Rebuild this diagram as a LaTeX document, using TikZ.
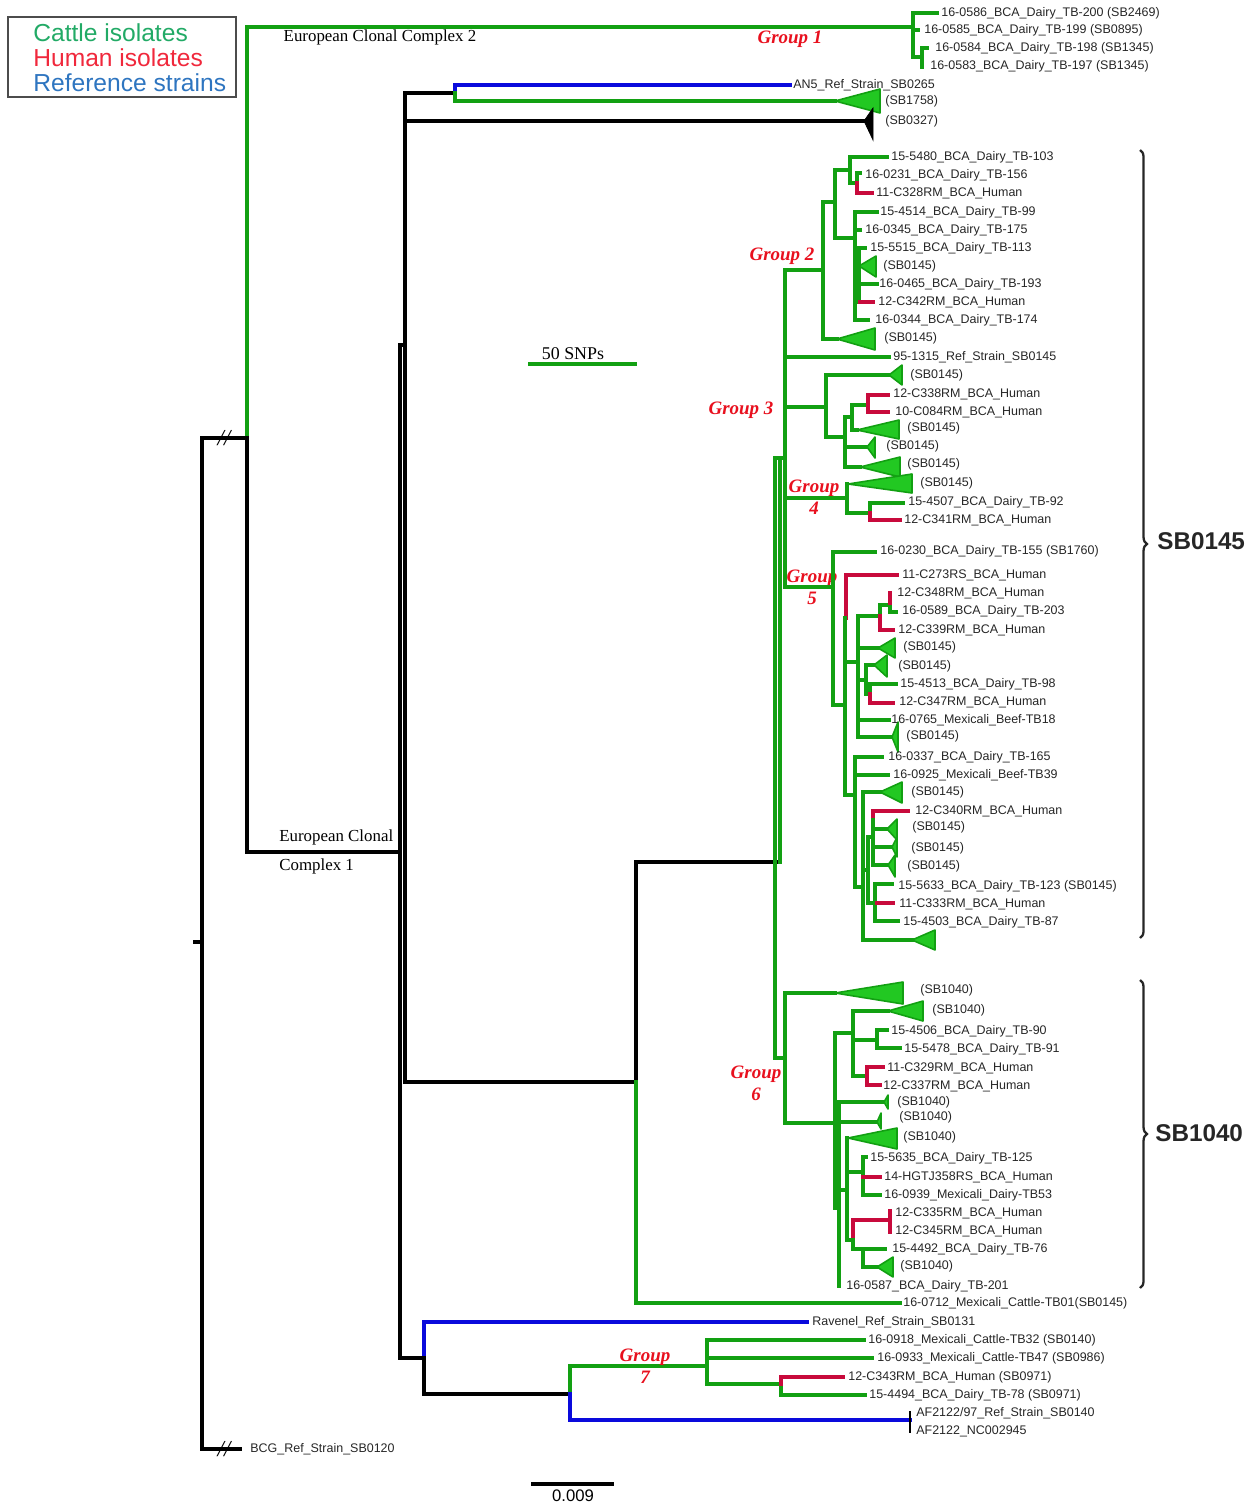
\documentclass[tikz,border=0pt]{standalone}
\usepackage{fontspec}
\setmainfont{Liberation Serif}
\setsansfont{Liberation Sans}
\usetikzlibrary{decorations.pathreplacing}
\definecolor{treegreen}{HTML}{12A012}
\definecolor{cladefill}{HTML}{22C822}
\definecolor{humred}{HTML}{C80A3C}
\definecolor{refblue}{HTML}{0A0ADC}
\definecolor{grpred}{HTML}{E8101E}
\definecolor{keygreen}{HTML}{22AA66}
\definecolor{keyred}{HTML}{F0283C}
\definecolor{keyblue}{HTML}{2E75C0}

\begin{document}
\begin{tikzpicture}[
  x=0.02cm, y=-0.02cm,
  br/.style={line width=1.75pt, line cap=rect, line join=miter},
  grn/.style={br, draw=treegreen},
  hum/.style={br, draw=humred},
  ref/.style={br, draw=refblue},
  blk/.style={br, draw=black},
  clade/.style={draw=treegreen, fill=cladefill, line width=0.9pt, line join=round},
  leaf/.style={anchor=west, inner sep=0pt, text=black!85,
               font=\sffamily\fontsize{7.1}{8.5}\selectfont},
  grp/.style={text=grpred, align=center, inner sep=0pt,
              font=\bfseries\itshape\fontsize{10.8}{12.5}\selectfont},
  ecc/.style={inner sep=0pt, font=\fontsize{9.6}{11}\selectfont},
  key/.style={anchor=west, inner sep=0pt, font=\sffamily\fontsize{14}{16}\selectfont},
  cut/.style={inner sep=0pt, font=\itshape\fontsize{13}{14}\selectfont},
  spl/.style={anchor=west, inner sep=0pt, font=\sffamily\bfseries\fontsize{13.8}{16}\selectfont, text=black!85}
]
\useasboundingbox (0,0) rectangle (1258,1507);

% === Legend ===
\draw[black!70, line width=0.8pt] (8,17) rectangle (236,97);
\node[key, text=keygreen] (kcat) at (33,33) {Cattle isolates};
\node[key, text=keyred]   (khum) at (33,58) {Human isolates};
\node[key, text=keyblue]  (kref) at (33,83) {Reference strains};

% === Root and the two cut branches ===
\draw[blk] (195,942) -- (202,942);
\draw[blk] (240,1449) -- (202,1449) -- (202,438) -- (247,438);
\node[cut] (cutA) at (224,438) {//};
\node[cut] (cutB) at (224,1449) {//};
\node[leaf] (bcg) at (250,1449) {BCG\_Ref\_Strain\_SB0120};

% === European Clonal Complex 2 / Group 1 ===
\draw[grn] (247,438) -- (247,27) -- (913,27);
\node[ecc] (ecc2) at (380,37) {European Clonal Complex 2};
\node[grp] (g1) at (790,39) {Group 1};
\draw[grn] (913,13) -- (913,57);
\draw[grn] (913,13) -- (937,13);
\draw[grn] (913,30) -- (918,30);
\draw[grn] (913,57) -- (922,57);
\draw[grn] (922,48) -- (922,67);
\draw[grn] (922,48) -- (927,48);
\node[leaf] (t200) at (941,13) {16-0586\_BCA\_Dairy\_TB-200 (SB2469)};
\node[leaf] (t199) at (924,30) {16-0585\_BCA\_Dairy\_TB-199 (SB0895)};
\node[leaf] (t198) at (935,48) {16-0584\_BCA\_Dairy\_TB-198 (SB1345)};
\node[leaf] (t197) at (930,66) {16-0583\_BCA\_Dairy\_TB-197 (SB1345)};

% === European Clonal Complex 1 ===
\draw[blk] (247,438) -- (247,852) -- (400,852);
\node[ecc, anchor=west] (ecc1a) at (279,837) {European Clonal};
\node[ecc, anchor=west] (ecc1b) at (279,866) {Complex 1};
\draw[blk] (400,345) -- (400,1358);
\draw[blk] (400,345) -- (405,345);
\draw[blk] (405,93) -- (405,1082);
\draw[blk] (405,93) -- (455,93);
\draw[ref] (455,93) -- (455,85) -- (790,85);
\draw[grn] (455,93) -- (455,101) -- (835,101);
\filldraw[clade] (835,101) -- (880,89) -- (880,113) -- cycle;
\draw[blk] (405,121) -- (868,121);
\filldraw[black] (864,121) -- (873,108) -- (873,140) -- cycle;
\node[leaf] (an5) at (793,85) {AN5\_Ref\_Strain\_SB0265};
\node[leaf] (s1758) at (885,101) {(SB1758)};
\node[leaf] (s0327) at (885,121) {(SB0327)};

\draw[blk] (405,1082) -- (636,1082);
\draw[blk] (636,1082) -- (636,862) -- (777,862);
\draw[grn] (636,1082) -- (636,1303) -- (900,1303);
\node[leaf] (tb01) at (903,1303) {16-0712\_Mexicali\_Cattle-TB01(SB0145)};

% === scale bars ===
\draw[grn] (530,364) -- (635,364);
\node[ecc, font=\fontsize{10.2}{12}\selectfont] (snp) at (573,354) {50 SNPs};
\draw[blk, line width=2.6pt] (533,1484) -- (612,1484);
\node[inner sep=0pt, font=\sffamily\fontsize{9.5}{11}\selectfont] (bar) at (573,1496) {0.009};

% === Groups 2-6 backbone ===
\draw[grn] (775,458) -- (775,1058);
\draw[grn] (780,462) -- (780,862);
\draw[grn] (775,458) -- (785,458);
\draw[grn] (775,1058) -- (785,1058);
\draw[grn] (785,270) -- (785,587);

% === Group 2 ===
\node[grp] (g2) at (782,256) {Group 2};
\draw[grn] (785,270) -- (823,270);
\draw[grn] (823,202) -- (823,339);
\draw[grn] (823,202) -- (835,202);
\draw[grn] (835,170) -- (835,238);
\draw[grn] (835,170) -- (850,170);
\draw[grn] (850,157) -- (850,183);
\draw[grn] (850,157) -- (887,157);
\draw[grn] (850,183) -- (857,183);
\draw[grn] (857,173) -- (857,183);
\draw[grn] (857,173) -- (860,173);
\draw[hum] (857,183) -- (857,193) -- (872,193);
\draw[grn] (835,238) -- (855,238);
\draw[grn] (855,212) -- (855,320);
\draw[grn] (859,248) -- (859,302);
\draw[grn] (855,212) -- (877,212);
\draw[grn] (855,230) -- (860,230);
\draw[grn] (855,248) -- (865,248);
\filldraw[clade] (859,266) -- (876,256) -- (876,277) -- cycle;
\draw[grn] (855,284) -- (877,284);
\draw[hum] (860,302) -- (873,302);
\draw[grn] (855,320) -- (868,320);
\draw[grn] (823,339) -- (837,339);
\filldraw[clade] (837,339) -- (875,328) -- (875,350) -- cycle;
\node[leaf] (t103) at (891,157) {15-5480\_BCA\_Dairy\_TB-103};
\node[leaf] (t156) at (865,175) {16-0231\_BCA\_Dairy\_TB-156};
\node[leaf] (h328) at (876,193) {11-C328RM\_BCA\_Human};
\node[leaf] (t99)  at (880,212) {15-4514\_BCA\_Dairy\_TB-99};
\node[leaf] (t175) at (865,230) {16-0345\_BCA\_Dairy\_TB-175};
\node[leaf] (t113) at (870,248) {15-5515\_BCA\_Dairy\_TB-113};
\node[leaf] (c2a)  at (883,266) {(SB0145)};
\node[leaf] (t193) at (879,284) {16-0465\_BCA\_Dairy\_TB-193};
\node[leaf] (h342) at (878,302) {12-C342RM\_BCA\_Human};
\node[leaf] (t174) at (875,320) {16-0344\_BCA\_Dairy\_TB-174};
\node[leaf] (c2b)  at (884,338) {(SB0145)};

% === 95-1315 ===
\draw[grn] (785,357) -- (889,357);
\node[leaf] (r1315) at (893,357) {95-1315\_Ref\_Strain\_SB0145};

% === Group 3 ===
\node[grp] (g3) at (741,410) {Group 3};
\draw[grn] (785,407) -- (826,407);
\draw[grn] (826,375) -- (826,437);
\draw[grn] (826,375) -- (890,375);
\filldraw[clade] (889,375) -- (902,365) -- (902,385) -- cycle;
\draw[grn] (826,437) -- (845,437);
\draw[grn] (845,417) -- (845,467);
\draw[grn] (845,417) -- (852,417);
\draw[grn] (852,405) -- (852,430);
\draw[grn] (852,405) -- (868,405);
\draw[hum] (868,395) -- (868,412);
\draw[hum] (868,395) -- (888,395);
\draw[hum] (868,412) -- (888,412);
\draw[grn] (852,430) -- (857,430);
\filldraw[clade] (857,430) -- (899,420) -- (899,439) -- cycle;
\draw[grn] (845,447) -- (867,447);
\filldraw[clade] (867,447) -- (875,437) -- (875,458) -- cycle;
\draw[grn] (845,467) -- (860,467);
\filldraw[clade] (860,467) -- (900,457) -- (900,477) -- cycle;
\node[leaf] (c3a)  at (910,375) {(SB0145)};
\node[leaf] (h338) at (893,394) {12-C338RM\_BCA\_Human};
\node[leaf] (h084) at (895,412) {10-C084RM\_BCA\_Human};
\node[leaf] (c3b)  at (907,428) {(SB0145)};
\node[leaf] (c3c)  at (886,446) {(SB0145)};
\node[leaf] (c3d)  at (907,464) {(SB0145)};

% === Group 4 ===
\node[grp] (g4) at (814,497) {Group\\4};
\draw[grn] (785,498) -- (847,498);
\draw[grn] (847,484) -- (847,513);
\filldraw[clade] (848,484) -- (912,474) -- (912,493) -- cycle;
\draw[grn] (847,513) -- (870,513);
\draw[grn] (870,503) -- (870,513);
\draw[grn] (870,503) -- (903,503);
\draw[hum] (870,513) -- (870,520) -- (900,520);
\node[leaf] (c4a)  at (920,483) {(SB0145)};
\node[leaf] (t92)  at (908,502) {15-4507\_BCA\_Dairy\_TB-92};
\node[leaf] (h341) at (904,520) {12-C341RM\_BCA\_Human};

% === Group 5 ===
\node[grp] (g5) at (812,587) {Group\\5};
\draw[grn] (785,587) -- (833,587);
\draw[grn] (833,552) -- (833,705);
\draw[grn] (833,552) -- (875,552);
\draw[grn] (833,705) -- (845,705);
\draw[hum] (846,618) -- (846,575) -- (897,575);
\draw[grn] (845,618) -- (845,795);
\draw[grn] (845,662) -- (858,662);
\draw[grn] (858,616) -- (858,737);
\draw[grn] (858,616) -- (880,616);
\draw[grn] (880,605) -- (880,616);
\draw[hum] (880,616) -- (880,630) -- (893,630);
\draw[grn] (880,605) -- (890,605);
\draw[grn] (890,603) -- (890,612) -- (896,612);
\draw[hum] (890,593) -- (890,603);
\draw[grn] (858,648) -- (878,648);
\filldraw[clade] (878,648) -- (895,638) -- (895,658) -- cycle;
\draw[grn] (858,680) -- (866,680);
\draw[grn] (866,665) -- (866,694);
\draw[grn] (866,665) -- (874,665);
\filldraw[clade] (874,665) -- (887,655) -- (887,677) -- cycle;
\draw[grn] (866,694) -- (870,694);
\draw[grn] (870,684) -- (870,694);
\draw[grn] (870,684) -- (896,684);
\draw[hum] (870,694) -- (870,703) -- (893,703);
\draw[grn] (858,720) -- (889,720);
\draw[grn] (858,737) -- (893,737);
\filldraw[clade] (892,737) -- (898,722) -- (898,752) -- cycle;
\draw[grn] (845,795) -- (855,795);
\draw[grn] (855,757) -- (855,887);
\draw[grn] (855,757) -- (882,757);
\draw[grn] (855,775) -- (888,775);
\draw[grn] (855,887) -- (863,887);
\draw[grn] (863,792) -- (863,940);
\draw[grn] (863,792) -- (880,792);
\filldraw[clade] (880,792) -- (902,782) -- (902,803) -- cycle;
\draw[grn] (863,870) -- (868,870);
\draw[grn] (868,837) -- (868,903);
\draw[grn] (868,837) -- (873,837);
\draw[hum] (873,811) -- (873,820);
\draw[hum] (873,811) -- (908,811);
\draw[grn] (873,820) -- (873,865);
\draw[grn] (873,829) -- (887,829);
\filldraw[clade] (887,829) -- (897,819) -- (897,840) -- cycle;
\draw[grn] (873,847) -- (892,847);
\filldraw[clade] (892,847) -- (897,837) -- (897,857) -- cycle;
\draw[grn] (873,865) -- (888,865);
\filldraw[clade] (888,865) -- (895,855) -- (895,877) -- cycle;
\draw[grn] (868,903) -- (875,903);
\draw[grn] (875,884) -- (875,921);
\draw[grn] (875,884) -- (892,884);
\draw[hum] (877,903) -- (893,903);
\draw[grn] (875,921) -- (898,921);
\draw[grn] (863,940) -- (912,940);
\filldraw[clade] (912,940) -- (935,930) -- (935,950) -- cycle;
\node[leaf] (t155) at (880,551) {16-0230\_BCA\_Dairy\_TB-155 (SB1760)};
\node[leaf] (h273) at (902,575) {11-C273RS\_BCA\_Human};
\node[leaf] (h348) at (897,593) {12-C348RM\_BCA\_Human};
\node[leaf] (t203) at (902,611) {16-0589\_BCA\_Dairy\_TB-203};
\node[leaf] (h339) at (898,630) {12-C339RM\_BCA\_Human};
\node[leaf] (c5a)  at (903,647) {(SB0145)};
\node[leaf] (c5b)  at (898,666) {(SB0145)};
\node[leaf] (t98)  at (900,684) {15-4513\_BCA\_Dairy\_TB-98};
\node[leaf] (h347) at (899,702) {12-C347RM\_BCA\_Human};
\node[leaf] (tb18) at (891,720) {16-0765\_Mexicali\_Beef-TB18};
\node[leaf] (c5c)  at (906,736) {(SB0145)};
\node[leaf] (t165) at (888,757) {16-0337\_BCA\_Dairy\_TB-165};
\node[leaf] (tb39) at (893,775) {16-0925\_Mexicali\_Beef-TB39};
\node[leaf] (c5d)  at (911,792) {(SB0145)};
\node[leaf] (h340) at (915,811) {12-C340RM\_BCA\_Human};
\node[leaf] (c5e)  at (912,827) {(SB0145)};
\node[leaf] (c5f)  at (911,848) {(SB0145)};
\node[leaf] (c5g)  at (907,866) {(SB0145)};
\node[leaf] (t123) at (898,886) {15-5633\_BCA\_Dairy\_TB-123 (SB0145)};
\node[leaf] (h333) at (899,904) {11-C333RM\_BCA\_Human};
\node[leaf] (t87)  at (903,922) {15-4503\_BCA\_Dairy\_TB-87};

% === Group 6 ===
\node[grp] (g6) at (756,1083) {Group\\6};
\draw[grn] (785,993) -- (785,1123);
\draw[grn] (785,993) -- (835,993);
\filldraw[clade] (835,993) -- (903,982) -- (903,1004) -- cycle;
\draw[grn] (785,1123) -- (835,1123);
\draw[grn] (835,1033) -- (835,1208);
\draw[grn] (835,1033) -- (853,1033);
\draw[grn] (853,1011) -- (853,1076);
\draw[grn] (853,1011) -- (888,1011);
\filldraw[clade] (888,1011) -- (923,1001) -- (923,1021) -- cycle;
\draw[grn] (853,1040) -- (877,1040);
\draw[grn] (877,1030) -- (877,1048);
\draw[grn] (877,1030) -- (887,1030);
\draw[grn] (877,1048) -- (900,1048);
\draw[grn] (853,1076) -- (867,1076);
\draw[hum] (867,1067) -- (867,1085);
\draw[hum] (867,1067) -- (883,1067);
\draw[hum] (867,1085) -- (880,1085);
\draw[grn] (835,1208) -- (839,1208);
\draw[grn] (839,1102) -- (839,1286);
\draw[grn] (839,1102) -- (885,1102);
\filldraw[clade] (884,1102) -- (888,1095) -- (888,1109) -- cycle;
\draw[grn] (839,1122) -- (878,1122);
\filldraw[clade] (877,1122) -- (881,1113) -- (881,1129) -- cycle;
\draw[grn] (839,1190) -- (847,1190);
\draw[grn] (847,1138) -- (847,1240);
\filldraw[clade] (848,1138) -- (897,1128) -- (897,1149) -- cycle;
\draw[grn] (847,1172) -- (863,1172);
\draw[grn] (863,1157) -- (863,1195);
\draw[grn] (863,1157) -- (866,1157);
\draw[hum] (863,1177) -- (880,1177);
\draw[grn] (863,1195) -- (880,1195);
\draw[grn] (847,1240) -- (853,1240);
\draw[hum] (853,1240) -- (853,1220) -- (890,1220);
\draw[hum] (890,1211) -- (890,1232);
\draw[grn] (853,1240) -- (853,1249) -- (863,1249);
\draw[grn] (863,1249) -- (863,1267);
\draw[grn] (863,1249) -- (885,1249);
\draw[grn] (863,1267) -- (877,1267);
\filldraw[clade] (877,1267) -- (893,1257) -- (893,1277) -- cycle;
\node[leaf] (c6a)  at (920,990) {(SB1040)};
\node[leaf] (c6b)  at (932,1010) {(SB1040)};
\node[leaf] (t90)  at (891,1031) {15-4506\_BCA\_Dairy\_TB-90};
\node[leaf] (t91)  at (904,1049) {15-5478\_BCA\_Dairy\_TB-91};
\node[leaf] (h329) at (887,1068) {11-C329RM\_BCA\_Human};
\node[leaf] (h337) at (883,1086) {12-C337RM\_BCA\_Human};
\node[leaf] (c6c)  at (897,1102) {(SB1040)};
\node[leaf] (c6d)  at (899,1117) {(SB1040)};
\node[leaf] (c6e)  at (903,1137) {(SB1040)};
\node[leaf] (t125) at (870,1158) {15-5635\_BCA\_Dairy\_TB-125};
\node[leaf] (h358) at (884,1177) {14-HGTJ358RS\_BCA\_Human};
\node[leaf] (tb53) at (884,1195) {16-0939\_Mexicali\_Dairy-TB53};
\node[leaf] (h335) at (895,1213) {12-C335RM\_BCA\_Human};
\node[leaf] (h345) at (895,1231) {12-C345RM\_BCA\_Human};
\node[leaf] (t76)  at (892,1249) {15-4492\_BCA\_Dairy\_TB-76};
\node[leaf] (c6f)  at (900,1266) {(SB1040)};
\node[leaf] (t201) at (846,1286) {16-0587\_BCA\_Dairy\_TB-201};

% === Ravenel / Group 7 / AF2122 ===
\draw[blk] (400,1358) -- (424,1358);
\draw[ref] (424,1358) -- (424,1322) -- (807,1322);
\draw[blk] (424,1358) -- (424,1394) -- (570,1394);
\draw[grn] (570,1394) -- (570,1366) -- (707,1366);
\draw[grn] (707,1340) -- (707,1384);
\draw[grn] (707,1340) -- (864,1340);
\draw[grn] (707,1358) -- (872,1358);
\draw[grn] (707,1384) -- (781,1384);
\draw[grn] (781,1384) -- (781,1395) -- (865,1395);
\draw[hum] (781,1384) -- (781,1377) -- (843,1377);
\draw[ref] (570,1394) -- (570,1420) -- (910,1420);
\draw[blk, line width=1.1pt] (910,1412) -- (910,1432);
\node[grp] (g7) at (645,1366) {Group\\7};
\node[leaf] (rav)  at (812,1322) {Ravenel\_Ref\_Strain\_SB0131};
\node[leaf] (tb32) at (868,1340) {16-0918\_Mexicali\_Cattle-TB32 (SB0140)};
\node[leaf] (tb47) at (877,1358) {16-0933\_Mexicali\_Cattle-TB47 (SB0986)};
\node[leaf] (h343) at (848,1377) {12-C343RM\_BCA\_Human (SB0971)};
\node[leaf] (t78)  at (869,1395) {15-4494\_BCA\_Dairy\_TB-78 (SB0971)};
\node[leaf] (af97) at (916,1413) {AF2122/97\_Ref\_Strain\_SB0140};
\node[leaf] (afnc) at (916,1431) {AF2122\_NC002945};

% === spoligotype braces ===
\draw[line width=1.3pt, black!85, decorate, decoration={brace, amplitude=4pt}]
  (1140,150) -- (1140,938);
\node[spl] (sb0145) at (1157,541) {SB0145};
\draw[line width=1.3pt, black!85, decorate, decoration={brace, amplitude=4pt}]
  (1140,980) -- (1140,1288);
\node[spl] (sb1040) at (1155,1133) {SB1040};

\end{tikzpicture}
\end{document}
